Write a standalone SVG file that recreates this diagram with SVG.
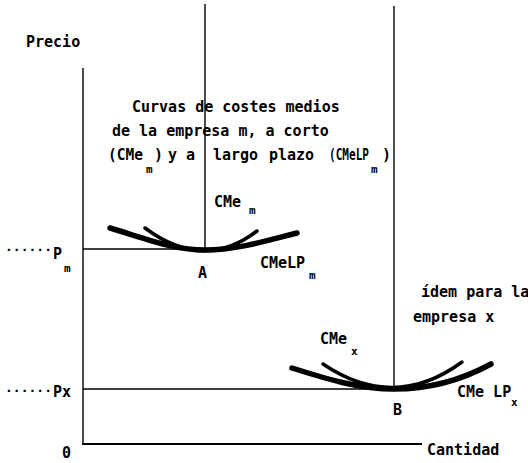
<svg xmlns="http://www.w3.org/2000/svg" width="528" height="463" viewBox="0 0 528 463">
<style>
text{font-family:"DejaVu Sans Mono","Liberation Mono",monospace;font-weight:bold;font-size:15px;fill:#000}
.sub{font-size:11px}
.dots{font-size:13px}
.ln{stroke:#000;stroke-width:1.4;fill:none}
.lp{stroke:#000;stroke-width:5.5;fill:none;stroke-linecap:round}
.sr{stroke:#000;stroke-width:3.5;fill:none;stroke-linecap:round}
</style>
<rect width="528" height="463" fill="#fff"/>
<g id="axes">
<line class="ln" x1="83" y1="68" x2="83" y2="445"/>
<line class="ln" x1="82" y1="444" x2="422" y2="444" style="stroke-width:2"/>
</g>
<g id="connectors">
<line class="ln" x1="205" y1="4" x2="205" y2="249"/>
<line class="ln" x1="394" y1="6" x2="394" y2="389"/>
<line class="ln" x1="83" y1="249" x2="205" y2="249"/>
<line class="ln" x1="83" y1="389" x2="394" y2="389"/>
</g>
<g id="curves-m">
<path class="lp" d="M110,228 C150,240 175,250 205,250 C235,250 262,242 297,233"/>
<path class="sr" d="M145,228 Q204,272 257,231"/>
</g>
<g id="curves-x">
<path class="lp" d="M292,368 C330,380 360,389 394,389 C430,389 460,381 491,364"/>
<path class="sr" d="M323,364 Q394,412 462,362"/>
</g>
<g id="labels">
<text x="26" y="47">Precio</text>
<text x="132" y="112">Curvas de costes medios</text>
<text x="112" y="136">de la empresa m, a corto</text>
<text x="108" y="160" textLength="35" lengthAdjust="spacingAndGlyphs">(CMe</text>
<text class="sub" x="146" y="173">m</text>
<text x="154" y="160">)</text>
<text x="168" y="160">y</text>
<text x="186" y="160">a</text>
<text x="213" y="160">largo</text>
<text x="269" y="160">plazo</text>
<text x="329" y="160" textLength="40" lengthAdjust="spacingAndGlyphs">(CMeLP</text>
<text class="sub" x="371" y="173">m</text>
<text x="382" y="160">)</text>
<text x="214" y="207">CMe</text>
<text class="sub" x="249" y="214">m</text>
<text x="260" y="268">CMeLP</text>
<text class="sub" x="309" y="279">m</text>
<text x="198" y="278">A</text>
<text x="421" y="297">ídem para la</text>
<text x="413" y="322">empresa x</text>
<text x="320" y="344">CMe</text>
<text class="sub" x="351" y="355">x</text>
<text x="457" y="397">CMe LP</text>
<text class="sub" x="511" y="406">x</text>
<text x="393" y="415">B</text>
<text x="427" y="455">Cantidad</text>
<text class="dots" x="5" y="254">······</text>
<text x="53" y="259">P</text>
<text class="sub" x="64" y="272">m</text>
<text class="dots" x="5" y="395">······</text>
<text x="53" y="397">Px</text>
<text x="62" y="458">0</text>
</g>
</svg>
